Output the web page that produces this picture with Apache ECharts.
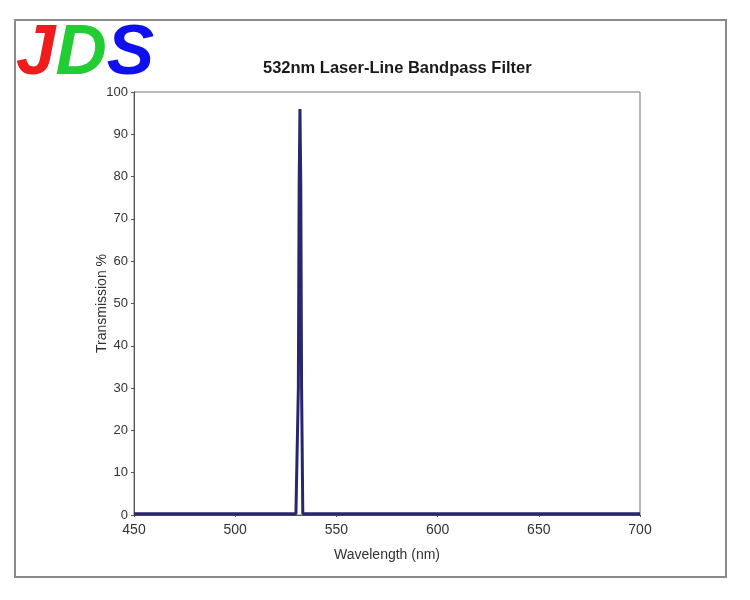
<!DOCTYPE html>
<html><head><meta charset="utf-8">
<script src="https://cdn.jsdelivr.net/npm/echarts@6/dist/echarts.min.js"></script>
<style>html,body{margin:0;padding:0;background:#fff}#c{width:750px;height:600px}</style>
</head><body><div id="c"></div>
<script>
const wavelengths = [450, 500, 530, 530.6, 531.2, 531.6, 532, 532.4, 532.8, 533.4, 534, 550, 600, 650, 700];
const transmission = [0.3, 0.3, 0.3, 0.3, 30, 78, 96, 78, 30, 0.3, 0.3, 0.3, 0.3, 0.3, 0.3];
const xTicks = [450, 500, 550, 600, 650, 700];
const yTicks = [0, 10, 20, 30, 40, 50, 60, 70, 80, 90, 100];
const titleText = '532nm Laser-Line Bandpass Filter';
const xName = 'Wavelength (nm)';
const yName = 'Transmission %';

const chart = echarts.init(document.getElementById('c'), null, {renderer: 'canvas'});
const font = "'Liberation Sans',Arial,sans-serif";
chart.setOption({
  animation: false,
  backgroundColor: '#ffffff',
  title: {
    text: titleText, left: 258, top: 55,
    textStyle: {fontFamily: font, fontWeight: 'bold', fontSize: 16.5, color: '#1a1a1a'}
  },
  grid: {left: 134, right: 110, top: 92, bottom: 85, show: true, borderColor: '#777', borderWidth: 1},
  xAxis: {
    type: 'value', min: xTicks[0], max: xTicks[xTicks.length - 1], interval: 50,
    name: xName, nameLocation: 'middle', nameGap: 33, nameMoveOverlap: false,
    nameTextStyle: {fontFamily: font, fontSize: 14, color: '#333'},
    axisLine: {lineStyle: {color: '#555'}},
    axisTick: {show: true, length: 2, lineStyle: {color: '#555'}},
    axisLabel: {fontFamily: font, fontSize: 14, color: '#333', margin: 8},
    splitLine: {show: false}
  },
  yAxis: {
    type: 'value', min: yTicks[0], max: yTicks[yTicks.length - 1], interval: 10,
    name: yName, nameLocation: 'middle', nameGap: 25, nameMoveOverlap: false,
    nameTextStyle: {fontFamily: font, fontSize: 14, color: '#333'},
    axisLine: {show: true, lineStyle: {color: '#555'}},
    axisTick: {show: true, length: 3, lineStyle: {color: '#555'}},
    axisLabel: {fontFamily: font, fontSize: 13, color: '#333', margin: 6},
    splitLine: {show: false}
  },
  series: [{
    type: 'line', data: wavelengths.map((w, i) => [w, transmission[i]]),
    showSymbol: false, smooth: false,
    lineStyle: {color: '#27266f', width: 3}
  }],
  graphic: [
    {type: 'rect', shape: {x: 15, y: 20, width: 711, height: 557}, style: {fill: 'none', stroke: '#8a8a8a', lineWidth: 2}, z: -1},
    {type: 'text', left: 16, top: 19, style: {
      rich: {
        j: {fill: '#ee1c1c', fontSize: 71, fontWeight: 'bold', fontStyle: 'italic', fontFamily: font},
        d: {fill: '#22cc33', fontSize: 71, fontWeight: 'bold', fontStyle: 'italic', fontFamily: font},
        s: {fill: '#1010ee', fontSize: 71, fontWeight: 'bold', fontStyle: 'italic', fontFamily: font}
      },
      text: '{j|J}{d|D}{s|S}'
    }}
  ]
});
</script></body></html>
